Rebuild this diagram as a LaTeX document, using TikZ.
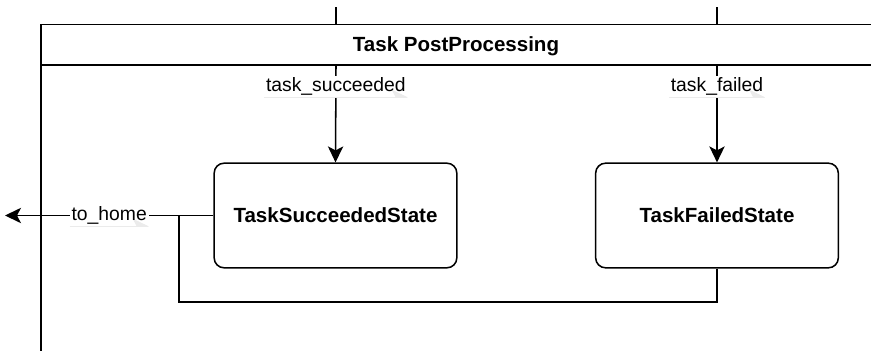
\documentclass[tikz,border=0pt]{standalone}
\usepackage{fontspec}
\setmainfont{Liberation Sans}
\usetikzlibrary{arrows.meta}
\begin{document}
\begin{tikzpicture}[x=0.75pt,y=-0.75pt,
  statebox/.style={draw, line width=1.15pt, rounded corners=7.5pt, minimum width=182pt, minimum height=78.5pt, font=\fontsize{15.4}{18}\selectfont\bfseries, inner sep=0pt},
  conn/.style={line width=1.15pt},
  tip/.style={-{Stealth[length=12pt,width=11.5pt,inset=3pt]}},
  elabel/.style={fill=white, inner sep=1.5pt, font=\fontsize{14.5}{17}\selectfont,
    path picture={\draw[black!8, line width=0.6pt] (path picture bounding box.south west) -- (path picture bounding box.south east);}},
  frame/.style={line width=1.3pt}]
\useasboundingbox (0,0) rectangle (871,350);
% container
\draw[frame] (41,352) -- (41,24.5) -- (873,24.5);
\draw[frame] (41,65) -- (873,65);
\node[font=\fontsize{15.4}{18}\selectfont\bfseries] (title) at (456,46.5) {Task PostProcessing};
% incoming lines from above
\coordinate (inA) at (336,7);
\coordinate (inB) at (717,7);
\coordinate (topA) at (336,24.5);
\coordinate (topB) at (717,24.5);
\draw[conn] (inA) -- (topA);
\draw[conn] (inB) -- (topB);
% states
\node[statebox] (succ) at (335.5,215.5) {TaskSucceededState};
\node[statebox] (fail) at (717,215.5) {TaskFailedState};
% transitions
\coordinate (sA) at (336,65);
\coordinate (sB) at (717,65);
\draw[conn,tip] (sA) -- node[elabel, pos=0.22] (lA) {task\_succeeded} (succ.north);
\draw[conn,tip] (sB) -- node[elabel, pos=0.22] (lB) {task\_failed} (fail.north);
% loop from failed
\coordinate (j) at (179,215.5);
\coordinate (home) at (5,215.5);
\draw[conn] (fail.south) -- (717,302) -| (j);
\draw[conn,tip] (succ.west) -- node[elabel, pos=0.5] (lH) {to\_home} (home);
\end{tikzpicture}
\end{document}
